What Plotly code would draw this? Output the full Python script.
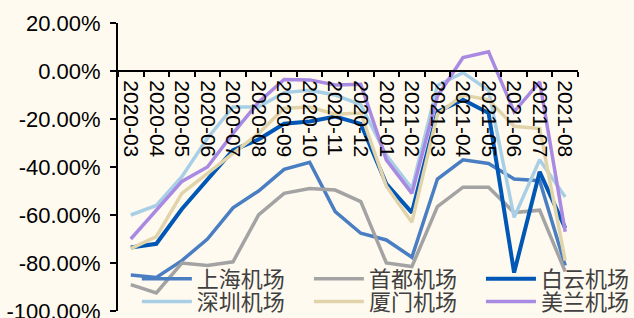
import plotly.graph_objects as go

months = ["2020-03", "2020-04", "2020-05", "2020-06", "2020-07", "2020-08",
          "2020-09", "2020-10", "2020-11", "2020-12", "2021-01", "2021-02",
          "2021-03", "2021-04", "2021-05", "2021-06", "2021-07", "2021-08"]

shanghai = [-85, -86, -79, -70, -57, -50, -41, -38, -58.6, -67.6, -70.4, -77.6,
            -45, -37, -38.5, -45, -45.7, -81]
shoudu = [-89, -92.5, -80, -81, -79.5, -60, -51, -49, -49.6, -54.4, -80, -81.5,
          -56.5, -48.4, -48.4, -59, -58, -83.6]
baiyun = [-73.5, -72, -57.5, -45, -33, -28.5, -22, -21, -19, -22, -47, -59,
          -17, -12, -17.5, -84, -42, -65.5]
shenzhen = [-60, -56, -44, -28, -15, -15, -9, -8, -10, -14, -35, -49,
            -6, -0.7, -8, -61, -37, -52.5]
xiamen = [-74, -69, -51, -42.6, -34, -26, -15.5, -15, -18, -17.5, -48, -63,
          -18, -10, -12, -23, -24, -79]
meilan = [-70, -58, -46, -40, -26, -13, -3.5, -3.7, -5.8, -5.5, -37, -51,
          -10.5, 5.6, 8, -17, -4.5, -67]

y_tick_vals = [20, 0, -20, -40, -60, -80, -100]
y_tick_text = ["20.00%", "0.00%", "-20.00%", "-40.00%", "-60.00%", "-80.00%", "-100.00%"]

series = [
    ("上海机场", shanghai, "#4A7EC2", 3.5),
    ("首都机场", shoudu, "#A3A3A3", 3.5),
    ("白云机场", baiyun, "#0057B5", 4),
    ("深圳机场", shenzhen, "#A8CFE6", 3.5),
    ("厦门机场", xiamen, "#E2D4AA", 3.5),
    ("美兰机场", meilan, "#A98AE2", 3.5),
]

# legend slots: 2 rows x 3 columns
col_x = [0.041, 0.415, 0.789]
row_y = [0.111, 0.032]

fig = go.Figure()
bg = "#FFFAF0"
legend_layout = {}
for i, (name, vals, color, w) in enumerate(series):
    lg = "legend" if i == 0 else f"legend{i + 1}"
    fig.add_trace(go.Scatter(x=months, y=vals, mode="lines", name=name,
                             line=dict(color=color, width=w), legend=lg))
    legend_layout[lg] = dict(
        x=col_x[i % 3], y=row_y[i // 3], xanchor="left", yanchor="middle",
        bgcolor="rgba(0,0,0,0)", itemwidth=50,
        font=dict(family="Noto Sans CJK SC", size=22, color="#404040"),
    )

fig.update_layout(
    width=634, height=318,
    margin=dict(l=118, r=56, t=23, b=7, autoexpand=False),
    paper_bgcolor=bg, plot_bgcolor=bg,
    showlegend=True,
    xaxis=dict(
        type="category", range=[-0.5, 17.5],
        anchor="free", position=100 / 120, automargin=False,
        showline=True, linecolor="black", linewidth=2,
        ticks="outside", tickson="boundaries", ticklen=5, tickwidth=2, tickcolor="black",
        tickangle=90, showgrid=False, zeroline=False, ticklabelstandoff=4,
        tickfont=dict(family="Liberation Sans", size=21, color="black"),
    ),
    yaxis=dict(
        range=[-100, 20], domain=[0, 1], automargin=False,
        tickvals=y_tick_vals, ticktext=y_tick_text, ticklabeloverflow="allow",
        showline=True, linecolor="black", linewidth=2,
        ticks="outside", ticklen=6, tickwidth=2, tickcolor="black",
        showgrid=False, zeroline=False, ticklabelstandoff=5,
        tickfont=dict(family="Liberation Sans", size=22, color="black"),
    ),
    **legend_layout,
)

fig.write_html(
    "out.html",
    config={"displayModeBar": False},
    post_script="document.body.style.margin='0';document.body.style.overflow='hidden';"
                "document.body.style.background='" + bg + "';",
)
